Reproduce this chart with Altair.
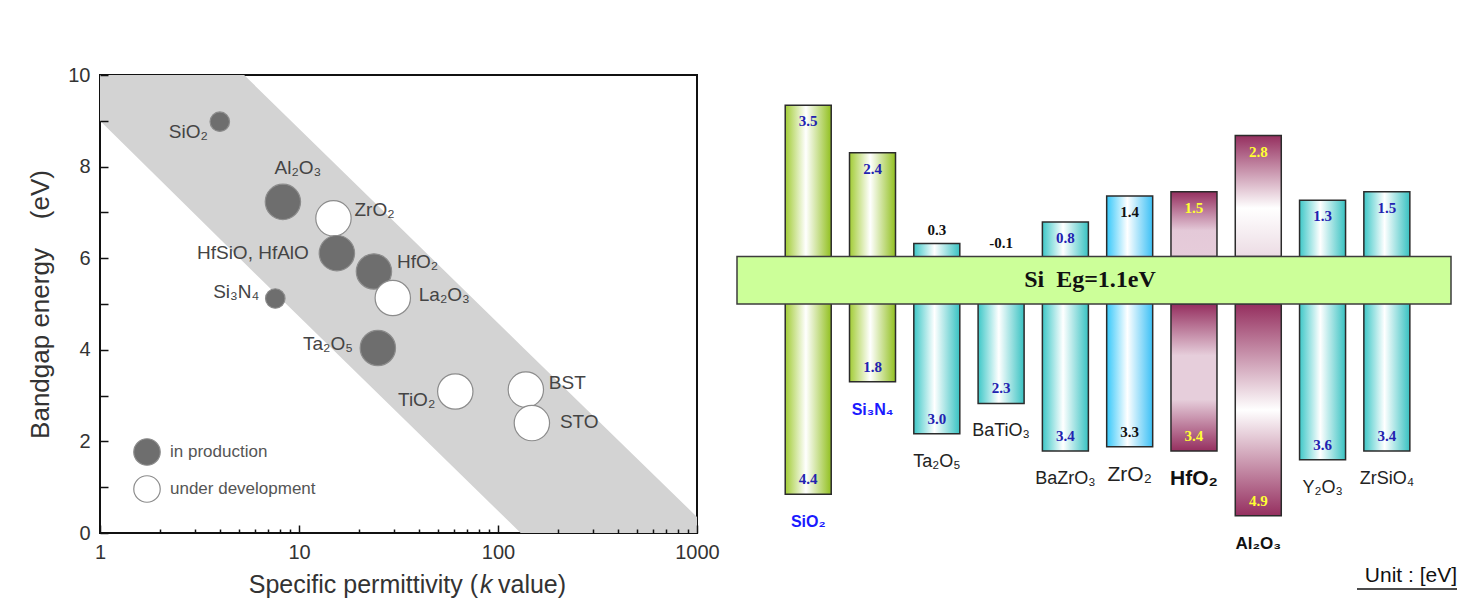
import altair as alt
import pandas as pd

# ---------- left panel: bandgap vs. k ----------
materials = ["SiO₂", "Al₂O₃", "ZrO₂", "HfSiO, HfAlO", "HfO₂", "La₂O₃",
             "Si₃N₄", "Ta₂O₅", "TiO₂", "BST", "STO"]
k_value = [4.0, 8.3, 14.9, 15.5, 23.8, 29.6, 7.6, 24.9, 61, 138, 148]
bandgap = [8.98, 7.23, 6.87, 6.11, 5.71, 5.13, 5.12, 4.04, 3.09, 3.13, 2.4]
status = ["in production", "in production", "under development", "in production",
          "in production", "under development", "in production", "in production",
          "under development", "under development", "under development"]

# grey band (vertices)
band_k = [1, 5.3, 130, 1000]
band_top = [10, 10, 4.1, 0.35]
band_bottom = [9.0, 5.9, 0, 0]

x_major = [1, 10, 100, 1000]
x_minor = [m * d for d in (1, 10, 100) for m in range(2, 10)]
y_labels = [0, 2, 4, 6, 8, 10]
y_ticks = list(range(0, 11))

# ---------- right panel: band offsets to Si ----------
oxides = ["SiO₂", "Si₃N₄", "Ta₂O₅", "BaTiO₃", "BaZrO₃", "ZrO₂", "HfO₂", "Al₂O₃", "Y₂O₃", "ZrSiO₄"]
cb_offset = [3.5, 2.4, 0.3, -0.1, 0.8, 1.4, 1.5, 2.8, 1.3, 1.5]
vb_offset = [4.4, 1.8, 3.0, 2.3, 3.4, 3.3, 3.4, 4.9, 3.6, 3.4]
si_gap = 1.1

SANS = "Liberation Sans"
SERIF = "Liberation Serif"

# ======================= left chart =======================
LW, LH = 597, 458
small = ["SiO₂", "Si₃N₄"]

# label placement: (align, dx px, dy px) relative to the circle centre
place = {
    "SiO₂": ("right", -12, 10), "Al₂O₃": ("center", 15, -34), "ZrO₂": ("left", 21, -8),
    "HfSiO, HfAlO": ("right", -28, 0), "HfO₂": ("left", 23, -9), "La₂O₃": ("left", 26, -3),
    "Si₃N₄": ("right", -16, -7), "Ta₂O₅": ("right", -25, -4), "TiO₂": ("right", -20, 9),
    "BST": ("left", 23, -7), "STO": ("left", 28, -1),
}

pts = pd.DataFrame({"name": materials, "k": k_value, "eg": bandgap, "status": status})
pts["align"] = [place[n][0] for n in materials]
pts["lk"] = [k * 10 ** (place[n][1] / (LW / 3)) for n, k in zip(materials, k_value)]
pts["le"] = [e - place[n][2] / (LH / 10) for n, e in zip(materials, bandgap)]

band = pd.DataFrame({"k": band_k, "top": band_top, "bottom": band_bottom})

xs = alt.Scale(type="log", domain=[1, 1000], nice=False)
ys = alt.Scale(domain=[0, 10], nice=False)

band_layer = alt.Chart(band).mark_area(color="#d3d3d3").encode(
    x=alt.X("k:Q", scale=xs, axis=alt.Axis(
        values=x_major, orient="bottom", ticks=False, tickSize=0, domain=False, grid=False,
        labelPadding=9, format="d", title=None, labelFlush=False, labelFont=SANS,
        labelFontSize=20, labelColor="#333")),
    y=alt.Y("top:Q", scale=ys, axis=alt.Axis(
        values=y_labels, orient="left", ticks=False, tickSize=0, domain=False, grid=False,
        labelPadding=10, labelFlush=False, labelFont=SANS, labelFontSize=20, labelColor="#333",
        title="Bandgap energy\u00a0\u00a0\u00a0\u00a0(eV)", titleFont=SANS, titleFontSize=26,
        titleFontWeight="normal", titleColor="#333", titlePadding=14)),
    y2="bottom:Q",
)

tick_style = dict(labels=False, domain=False, grid=False, tickColor="#111", tickWidth=1.5,
                  title=None, zindex=2)

circle_layer = alt.Chart(pts).mark_circle(opacity=1, stroke="#8c8c8c", strokeWidth=1.2).encode(
    x=alt.X("k:Q", scale=xs, axis=alt.Axis(values=x_minor, orient="bottom",
                                           tickSize=4, offset=-4, **tick_style)),
    y=alt.Y("eg:Q", scale=ys, axis=alt.Axis(values=y_ticks, orient="left",
                                            tickSize=8, offset=-8, **tick_style)),
    color=alt.Color("status:N", scale=alt.Scale(
        domain=["in production", "under development"], range=["#6e6e6e", "#ffffff"]),
        legend=alt.Legend(title=None, orient="none", legendX=33, legendY=363, padding=0,
                          symbolSize=700, symbolType="circle", symbolStrokeColor="#8c8c8c",
                          symbolStrokeWidth=1.2, symbolOpacity=1, labelFont=SANS,
                          labelFontSize=17, labelColor="#555", labelOffset=9, rowPadding=5)),
    size=alt.condition(alt.FieldOneOfPredicate(field="name", oneOf=small),
                       alt.value(380), alt.value(1250)),
)

label_layers = []
for a in ["left", "center", "right"]:
    xaxis = None
    if a == "left":
        xaxis = alt.Axis(values=x_major, orient="bottom", tickSize=8, offset=-8, **tick_style)
    label_layers.append(
        alt.Chart(pts).transform_filter(alt.datum.align == a).mark_text(
            align=a, baseline="middle", font=SANS, fontSize=19, color="#444"
        ).encode(
            x=alt.X("lk:Q", scale=xs, axis=xaxis),
            y=alt.Y("le:Q", scale=ys, axis=None),
            text="name:N",
        )
    )

one = pd.DataFrame({"a": [0]})
xt_y = LH + 52
xtitle = (
    alt.Chart(one).mark_text(align="right", baseline="middle", font=SANS, fontSize=25, color="#333")
    .encode(x=alt.value(378), y=alt.value(xt_y), text=alt.value("Specific permittivity ("))
    + alt.Chart(one).mark_text(align="left", baseline="middle", font=SANS, fontSize=25,
                               fontStyle="italic", color="#333")
    .encode(x=alt.value(380), y=alt.value(xt_y), text=alt.value("k"))
    + alt.Chart(one).mark_text(align="left", baseline="middle", font=SANS, fontSize=25, color="#333")
    .encode(x=alt.value(398), y=alt.value(xt_y), text=alt.value("value)"))
)

left = alt.layer(band_layer, circle_layer, *label_layers, xtitle).resolve_axis(
    x="independent", y="independent"
).properties(width=LW, height=LH, view=alt.ViewBackground(stroke="#111", strokeWidth=2))

# ======================= right chart =======================
RW, RH = 714, 526
ry = alt.Scale(domain=[-7.97, 4.20], nice=False)
rx = alt.Scale(domain=[-1.03, 9.92], nice=False)

BLUE = "#2222b0"
NAVY_NAME = "#1a1aff"
YEL = "#ffff33"
BLK = "#111111"

fill_style = {"SiO₂": "green", "Si₃N₄": "green", "Ta₂O₅": "cyan", "BaTiO₃": "cyan",
              "BaZrO₃": "cyan", "ZrO₂": "sky", "HfO₂": "hf", "Al₂O₃": "al",
              "Y₂O₃": "cyan", "ZrSiO₄": "cyan"}
top_color = {"SiO₂": BLUE, "Si₃N₄": BLUE, "Ta₂O₅": BLK, "BaTiO₃": BLK, "BaZrO₃": BLUE,
             "ZrO₂": BLK, "HfO₂": YEL, "Al₂O₃": YEL, "Y₂O₃": BLUE, "ZrSiO₄": BLUE}
bot_color = {"SiO₂": BLUE, "Si₃N₄": BLUE, "Ta₂O₅": BLUE, "BaTiO₃": BLUE, "BaZrO₃": BLUE,
             "ZrO₂": BLK, "HfO₂": YEL, "Al₂O₃": YEL, "Y₂O₃": BLUE, "ZrSiO₄": BLUE}
name_style = {"SiO₂": ("bold", 16, NAVY_NAME), "Si₃N₄": ("bold", 16, NAVY_NAME),
              "Ta₂O₅": ("normal", 18, "#222"), "BaTiO₃": ("normal", 18, "#222"),
              "BaZrO₃": ("normal", 18, "#222"), "ZrO₂": ("normal", 21, "#222"),
              "HfO₂": ("bold", 21, "#111"), "Al₂O₃": ("bold", 17, "#111"),
              "Y₂O₃": ("normal", 18, "#222"), "ZrSiO₄": ("normal", 18, "#222")}

bars = pd.DataFrame({"name": oxides, "idx": list(range(len(oxides))),
                     "cb": cb_offset, "vb": vb_offset})
bars["bottom"] = -(si_gap + bars["vb"])
bars["style"] = [fill_style[n] for n in oxides]
bars["inside"] = bars["cb"] >= 0.8
bars["cb_y"] = bars["cb"].clip(lower=0)
bars["cb_txt"] = [f"{v:.1f}" for v in cb_offset]
bars["vb_txt"] = [f"{v:.1f}" for v in vb_offset]
bars["cb_col"] = [top_color[n] for n in oxides]
bars["vb_col"] = [bot_color[n] for n in oxides]
bars["weight"] = [name_style[n][0] for n in oxides]
bars["fs"] = [name_style[n][1] for n in oxides]
bars["ncol"] = [name_style[n][2] for n in oxides]
bars["si_top"] = 0.0
bars["si_bot"] = -si_gap


def grad(stops, vertical=False):
    return alt.Gradient(
        gradient="linear",
        stops=[alt.GradientStop(color=c, offset=o) for o, c in stops],
        x1=0, x2=0 if vertical else 1, y1=0, y2=1 if vertical else 0,
    )


X = alt.X("idx:Q", scale=rx, axis=None)
full_grads = {
    "green": grad([(0, "#a2cc35"), (0.45, "#ffffff"), (1, "#92c020")]),
    "cyan": grad([(0, "#3ec8c8"), (0.45, "#ffffff"), (1, "#38c2c2")]),
    "sky": grad([(0, "#36c8fa"), (0.45, "#ffffff"), (1, "#3cc0f5")]),
}
bar_layers = []
for st, g in full_grads.items():
    bar_layers.append(
        alt.Chart(bars).transform_filter(alt.datum.style == st)
        .mark_bar(size=46, color=g, stroke="#2b2b2b", strokeWidth=1.5)
        .encode(x=X, y=alt.Y("cb:Q", scale=ry, axis=None), y2="bottom:Q")
    )

DARK = "#952f5f"
split_grads = {
    "hf": (grad([(0, DARK), (0.6, "#e4c9d8"), (1, "#e6ccda")], True),
           grad([(0, DARK), (0.35, "#e6cedb"), (0.65, "#e6cedb"), (1, DARK)], True)),
    "al": (grad([(0, DARK), (0.6, "#ffffff"), (1, "#ecdce4")], True),
           grad([(0, DARK), (0.5, "#ffffff"), (1, DARK)], True)),
}
for st, (gu, gl) in split_grads.items():
    base = alt.Chart(bars).transform_filter(alt.datum.style == st)
    bar_layers.append(
        base.mark_bar(size=46, color=gu, stroke="#2b2b2b", strokeWidth=1.5)
        .encode(x=X, y=alt.Y("cb:Q", scale=ry, axis=None), y2="si_top:Q")
    )
    bar_layers.append(
        base.mark_bar(size=46, color=gl, stroke="#2b2b2b", strokeWidth=1.5)
        .encode(x=X, y=alt.Y("si_bot:Q", scale=ry, axis=None), y2="bottom:Q")
    )

si_df = pd.DataFrame({"top": [0.0], "bottom": [-si_gap], "mid": [-si_gap / 2],
                      "label": ["Si\u00a0\u00a0Eg=%.1feV" % si_gap]})
si_band = alt.Chart(si_df).mark_rect(fill="#ccff99", stroke="#3c3c3c", strokeWidth=1.5).encode(
    x=alt.value(0), x2=alt.value(RW),
    y=alt.Y("top:Q", scale=ry, axis=None), y2="bottom:Q",
)
si_text = alt.Chart(si_df).mark_text(font=SERIF, fontWeight="bold", fontSize=24,
                                     baseline="middle", color="#111").encode(
    x=alt.value(RW / 2 - 4), y=alt.Y("mid:Q", scale=ry, axis=None), text="label:N",
)

val_font = dict(font=SERIF, fontWeight="bold", fontSize=15, baseline="middle")
cb_in = alt.Chart(bars).transform_filter(alt.datum.inside).mark_text(dy=16, **val_font).encode(
    x=X, y=alt.Y("cb:Q", scale=ry, axis=None), text="cb_txt:N",
    color=alt.Color("cb_col:N", scale=None),
)
cb_out = alt.Chart(bars).transform_filter(~alt.datum.inside).mark_text(dy=-14, **val_font).encode(
    x=X, y=alt.Y("cb_y:Q", scale=ry, axis=None), text="cb_txt:N",
    color=alt.Color("cb_col:N", scale=None),
)
vb_lab = alt.Chart(bars).mark_text(dy=-15, **val_font).encode(
    x=X, y=alt.Y("bottom:Q", scale=ry, axis=None), text="vb_txt:N",
    color=alt.Color("vb_col:N", scale=None),
)

name_layers = []
for w in ["normal", "bold"]:
    name_layers.append(
        alt.Chart(bars).transform_filter(alt.datum.weight == w)
        .mark_text(font=SANS, fontWeight=w, baseline="middle", dy=28)
        .encode(x=X, y=alt.Y("bottom:Q", scale=ry, axis=None), text="name:N",
                size=alt.Size("fs:Q", scale=None), color=alt.Color("ncol:N", scale=None))
    )

unit_text = alt.Chart(one).mark_text(align="right", baseline="middle", font=SANS,
                                     fontSize=21, color="#111").encode(
    x=alt.value(RW + 6), y=alt.value(RH - 25), text=alt.value("Unit : [eV]"))
unit_rule = alt.Chart(one).mark_rule(color="#111", strokeWidth=1.3).encode(
    x=alt.value(RW - 94), x2=alt.value(RW + 6), y=alt.value(RH - 12))

right = alt.layer(*bar_layers, si_band, si_text, cb_in, cb_out, vb_lab, *name_layers,
                  unit_text, unit_rule).properties(width=RW, height=RH)

chart = alt.hconcat(left, right, spacing=15).properties(
    padding={"left": 18, "top": 56, "right": 0, "bottom": 0}
).configure_view(stroke=None)

chart.save("out.html", embed_options={"renderer": "svg", "actions": False})
